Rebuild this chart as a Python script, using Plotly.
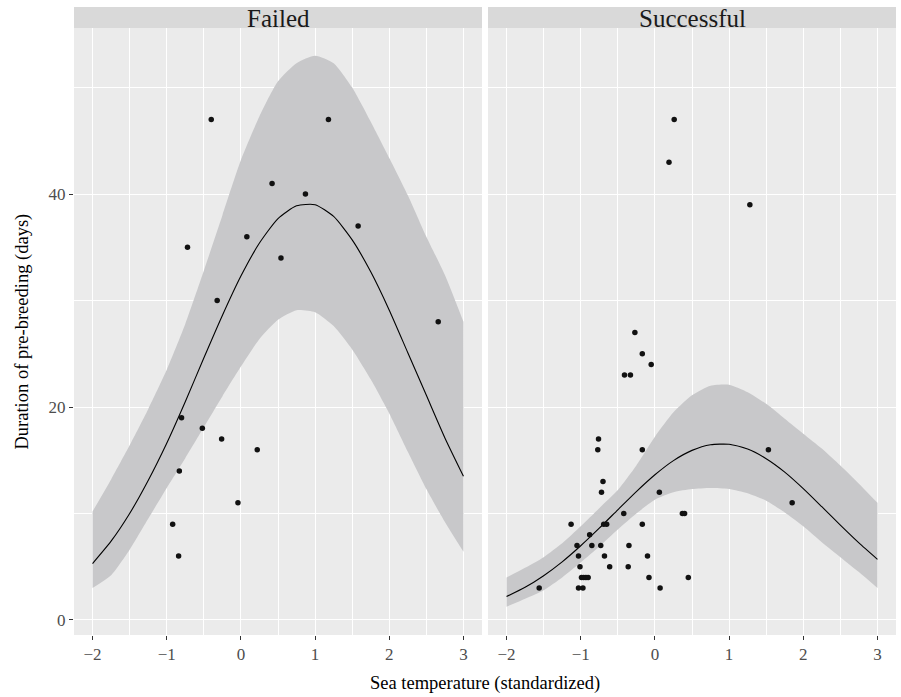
import plotly.graph_objects as go

# ---------------- data ----------------
panels = ["Failed", "Successful"]

failed_x = [-0.40, 1.18, 0.42, 0.87, 1.58, 0.08, -0.72, 0.54, -0.32, 2.66,
            -0.80, -0.52, -0.26, 0.22, -0.83, -0.04, -0.92, -0.84]
failed_y = [47, 47, 41, 40, 37, 36, 35, 34, 30, 28,
            19, 18, 17, 16, 14, 11, 9, 6]

succ_x = [0.26, 0.19, 1.28, -0.27, -0.17, -0.05, -0.41, -0.33, -0.76, -0.77,
          -0.17, 1.53, -0.70, -0.72, 0.06, 1.85, -0.42, 0.37, 0.40, -1.13,
          -0.69, -0.65, -0.17, -0.88, -1.05, -0.85, -0.73, -0.35, -1.03, -0.68,
          -0.10, -1.01, -0.61, -0.36, -0.99, -0.96, -0.93, -0.90, -0.08, 0.45,
          -1.56, -1.03, -0.97, 0.07]
succ_y = [47, 43, 39, 27, 25, 24, 23, 23, 17, 16,
          16, 16, 13, 12, 12, 11, 10, 10, 10, 9,
          9, 9, 9, 8, 7, 7, 7, 7, 6, 6,
          6, 5, 5, 5, 4, 4, 4, 4, 4, 4,
          3, 3, 3, 3]

grid_x = [-2.0, -1.75, -1.5, -1.25, -1.0, -0.75, -0.5, -0.25, 0.0, 0.25, 0.5,
          0.75, 1.0, 1.25, 1.5, 1.75, 2.0, 2.25, 2.5, 2.75, 3.0]

failed_fit = [5.3, 7.4, 10.0, 13.1, 16.6, 20.5, 24.6, 28.6, 32.3, 35.4, 37.7,
              38.9, 39.0, 37.9, 35.7, 32.7, 29.1, 25.1, 21.1, 17.1, 13.5]
failed_upper = [10.2, 13.2, 16.4, 19.8, 23.5, 27.8, 32.8, 38.0, 43.2, 47.3, 50.6,
                52.3, 53.0, 52.3, 50.0, 46.8, 43.4, 39.9, 36.0, 32.4, 28.0]
failed_lower = [3.0, 4.2, 6.6, 9.5, 12.4, 15.2, 18.1, 21.0, 23.8, 26.4, 28.2,
                29.1, 28.9, 27.6, 25.4, 22.6, 19.4, 15.8, 12.3, 9.2, 6.4]

succ_fit = [2.2, 3.07, 4.16, 5.46, 6.97, 8.62, 10.35, 12.06, 13.64, 14.97, 15.93,
            16.46, 16.5, 16.05, 15.15, 13.89, 12.34, 10.64, 8.91, 7.24, 5.7]
succ_upper = [4.0, 4.9, 5.9, 7.2, 8.8, 10.5, 12.2, 14.5, 17.2, 19.5, 21.1,
              22.0, 22.1, 21.4, 20.3, 18.9, 17.5, 16.1, 14.5, 12.8, 11.0]
succ_lower = [1.25, 2.0, 2.8, 4.0, 5.4, 6.9, 8.5, 10.0, 11.3, 12.0, 12.3,
              12.4, 12.3, 11.9, 11.2, 10.1, 8.8, 7.3, 5.9, 4.5, 3.0]

x_ticks = [-2, -1, 0, 1, 2, 3]
y_ticks = [0, 20, 40]

x_title = "Sea temperature (standardized)"
y_title = "Duration of pre-breeding (days)"

# ---------------- figure ----------------
FONT = "Liberation Serif"
RIBBON = "#C8C8CA"

fig = go.Figure()

series = [
    (failed_x, failed_y, failed_fit, failed_upper, failed_lower, "x", "y"),
    (succ_x, succ_y, succ_fit, succ_upper, succ_lower, "x2", "y2"),
]
for px_, py_, fit, up, lo, xa, ya in series:
    fig.add_trace(go.Scatter(
        x=grid_x, y=lo, mode="lines",
        line=dict(width=0, color=RIBBON, shape="spline", smoothing=0.6),
        xaxis=xa, yaxis=ya, hoverinfo="skip", showlegend=False))
    fig.add_trace(go.Scatter(
        x=grid_x, y=up, mode="lines", fill="tonexty", fillcolor=RIBBON,
        line=dict(width=0, color=RIBBON, shape="spline", smoothing=0.6),
        xaxis=xa, yaxis=ya, hoverinfo="skip", showlegend=False))
    fig.add_trace(go.Scatter(
        x=grid_x, y=fit, mode="lines",
        line=dict(color="black", width=1.1, shape="spline", smoothing=0.6),
        xaxis=xa, yaxis=ya, showlegend=False))
    fig.add_trace(go.Scatter(
        x=px_, y=py_, mode="markers",
        marker=dict(color="#111111", size=5.5),
        xaxis=xa, yaxis=ya, showlegend=False))

W, H = 901, 697
ml, mr, mt, mb = 74, 5, 7, 62
pw = W - ml - mr
ph = H - mt - mb
panel_w = 408
gap = 6
d1 = [0, panel_w / pw]
d2 = [(panel_w + gap) / pw, 1]
ytop = (ph - 21) / ph

xcommon = dict(range=[-2.25, 3.25], tickvals=x_ticks, showgrid=True,
               gridcolor="white", gridwidth=1.1, zeroline=False,
               ticks="outside", ticklen=4, tickcolor="#333333", tickwidth=1,
               tickfont=dict(family=FONT, size=17, color="#4D4D4D"),
               minor=dict(dtick=0.5, tick0=0, showgrid=True, gridcolor="white",
                          gridwidth=0.55, ticks=""),
               showline=False, fixedrange=True)
ycommon = dict(range=[-1.41, 55.6], tickvals=y_ticks, showgrid=True,
               gridcolor="white", gridwidth=1.1, zeroline=False,
               ticks="outside", ticklen=4, tickcolor="#333333", tickwidth=1,
               tickfont=dict(family=FONT, size=17, color="#4D4D4D"),
               minor=dict(dtick=10, tick0=0, showgrid=True, gridcolor="white",
                          gridwidth=0.55, ticks=""),
               showline=False, fixedrange=True, domain=[0, ytop])

fig.update_layout(
    width=W, height=H,
    margin=dict(l=ml, r=mr, t=mt, b=mb),
    paper_bgcolor="white", plot_bgcolor="#EBEBEB",
    xaxis=dict(domain=d1, anchor="y", **xcommon),
    xaxis2=dict(domain=d2, anchor="y2", **xcommon),
    yaxis=dict(anchor="x", **ycommon),
    yaxis2=dict(anchor="x2", showticklabels=False,
                **{k: v for k, v in ycommon.items() if k not in ("ticks",)},
                ticks=""),
    font=dict(family=FONT),
)

# strips
for xr, name in zip(["x domain", "x2 domain"], panels):
    fig.add_shape(type="rect", xref=xr, yref="paper", x0=0, x1=1,
                  y0=ytop, y1=1, fillcolor="#D9D9D9", line_width=0)
    fig.add_annotation(x=0.5, y=(ytop + 1) / 2 - 0.002, xref=xr,
                       yref="paper", text=name, showarrow=False,
                       xanchor="center", yanchor="middle",
                       font=dict(family=FONT, size=25, color="#1A1A1A"))

fig.add_annotation(x=(d1[0] + d2[1]) / 2, y=-(683 - (H - mb)) / ph, xref="paper",
                   yref="paper", text=x_title, showarrow=False, yanchor="middle",
                   font=dict(family=FONT, size=18.5, color="black"))
fig.add_annotation(x=(22 - ml) / pw, y=ytop / 2, xref="paper", yref="paper",
                   text=y_title, textangle=-90, showarrow=False,
                   xanchor="center", yanchor="middle",
                   font=dict(family=FONT, size=18.5, color="black"))

fig.write_html("out.html")
